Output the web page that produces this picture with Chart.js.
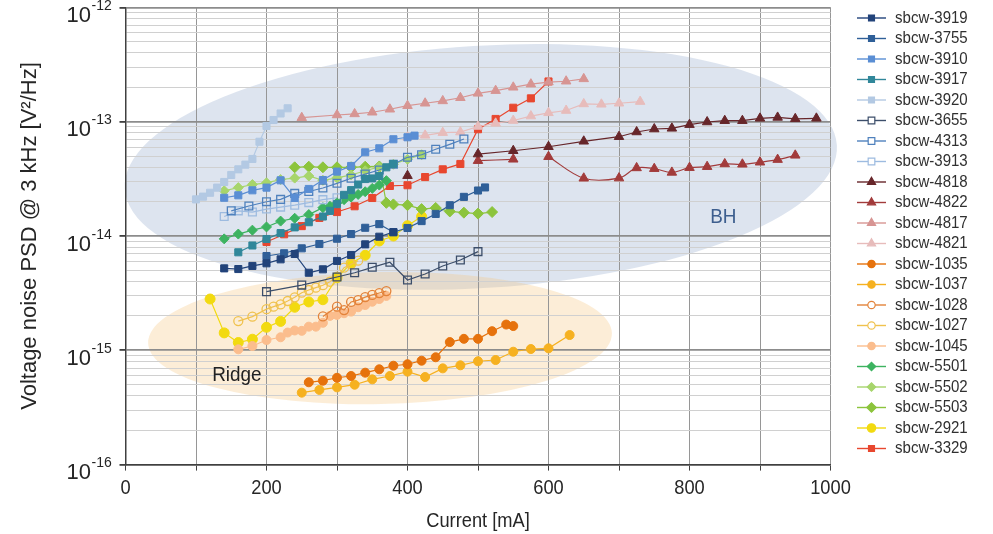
<!DOCTYPE html>
<html>
<head>
<meta charset="utf-8">
<script src="https://cdn.jsdelivr.net/npm/chart.js@4.4.0/dist/chart.umd.min.js"></script>
<style>
	html, body { margin: 0; padding: 0; background: #fff; }
	#wrap { width: 993px; height: 534px; }
</style>
</head>
<body>
<div id="wrap"><canvas id="myChart" width="993" height="534"></canvas></div>
<script>
// tick labels
const xTickLabels = [0, 200, 400, 600, 800, 1000]
const yDecades = [-16, -15, -14, -13, -12]

// series names (legend order)
const names = ['sbcw-3919', 'sbcw-3755', 'sbcw-3910', 'sbcw-3917', 'sbcw-3920', 'sbcw-3655', 'sbcw-4313', 'sbcw-3913',
	'sbcw-4818', 'sbcw-4822', 'sbcw-4817', 'sbcw-4821', 'sbcw-1035', 'sbcw-1037', 'sbcw-1028', 'sbcw-1027', 'sbcw-1045',
	'sbcw-5501', 'sbcw-5502', 'sbcw-5503', 'sbcw-2921', 'sbcw-3329']

// current [mA] and noise PSD [V^2/Hz]
const x3919 = [140, 160, 180, 200, 220, 240, 260, 280, 300, 320, 340, 360, 380]
const y3919 = [5.21e-15, 5.14e-15, 5.47e-15, 5.77e-15, 6.25e-15, 6.96e-15, 4.77e-15, 5.11e-15, 6.05e-15, 6.82e-15, 8.45e-15, 9.86e-15, 1.08e-14]

const x3755 = [200, 225, 250, 275, 300, 320, 340, 360, 380, 400, 420, 440, 460, 480, 500, 510]
const y3755 = [6.68e-15, 7.06e-15, 7.8e-15, 8.51e-15, 9.47e-15, 1.04e-14, 1.18e-14, 1.27e-14, 1.08e-14, 1.175e-14, 1.35e-14, 1.56e-14, 1.86e-14, 2.2e-14, 2.5e-14, 2.66e-14]

const x3910 = [140, 160, 180, 200, 220, 240, 260, 280, 300, 320, 340, 360, 380, 400, 410]
const y3910 = [2.16e-14, 2.27e-14, 2.51e-14, 2.65e-14, 3.07e-14, 2.15e-14, 2.58e-14, 3.09e-14, 3.66e-14, 4.1e-14, 5.4e-14, 5.85e-14, 7.02e-14, 7.31e-14, 7.55e-14]

const x3917 = [160, 180, 200, 220, 240, 260, 280, 290, 300, 310, 320, 330, 340, 350, 360, 370, 380]
const y3917 = [7.2e-15, 8.26e-15, 9.41e-15, 1.06e-14, 1.19e-14, 1.32e-14, 1.48e-14, 1.66e-14, 1.9e-14, 2.29e-14, 2.52e-14, 2.82e-14, 3.15e-14, 3.19e-14, 3.35e-14, 3.99e-14, 4.27e-14]

const x3920 = [100, 110, 120, 130, 140, 150, 160, 170, 180, 190, 200, 210, 220, 230]
const y3920 = [2.09e-14, 2.21e-14, 2.39e-14, 2.65e-14, 2.97e-14, 3.42e-14, 3.83e-14, 4.21e-14, 4.72e-14, 6.68e-14, 9.17e-14, 1.035e-13, 1.18e-13, 1.31e-13]

const x3655 = [200, 250, 300, 325, 350, 375, 400, 425, 450, 475, 500]
const y3655 = [3.26e-15, 3.72e-15, 4.38e-15, 4.77e-15, 5.32e-15, 5.89e-15, 4.12e-15, 4.65e-15, 5.47e-15, 6.17e-15, 7.3e-15]

const x4313 = [150, 175, 200, 220, 240, 260, 280, 300, 320, 340, 360, 380, 400, 420, 440, 460, 480]
const y4313 = [1.66e-14, 1.83e-14, 1.995e-14, 2.09e-14, 2.36e-14, 2.45e-14, 2.63e-14, 2.89e-14, 3.2e-14, 3.48e-14, 3.78e-14, 4.24e-14, 4.88e-14, 5.14e-14, 5.74e-14, 6.34e-14, 7.05e-14]

const x3913 = [140, 160, 180, 200, 220, 240, 260, 280, 300]
const y3913 = [1.48e-14, 1.66e-14, 1.62e-14, 1.72e-14, 1.79e-14, 1.86e-14, 1.96e-14, 2.08e-14, 2.16e-14]

const x4818 = [400, 450, 500, 550, 600, 650, 700, 725, 750, 775, 800, 825, 850, 875, 900, 925, 950, 980]
const y4818 = [3.37e-14, null, 5.21e-14, 5.57e-14, 6.04e-14, 6.74e-14, 7.39e-14, 8.13e-14, 8.63e-14, 8.75e-14, 9.42e-14, 9.94e-14, 1.02e-13, 1.02e-13, 1.07e-13, 1.09e-13, 1.06e-13, 1.07e-13]

const x4822 = [500, 550, 575, 600, 650, 700, 725, 750, 775, 800, 825, 850, 875, 900, 925, 950]
const y4822 = [4.56e-14, 4.69e-14, null, 4.94e-14, 3.2e-14, 3.21e-14, 3.94e-14, 3.88e-14, 3.6e-14, 3.96e-14, 4.04e-14, 4.27e-14, 4.24e-14, 4.42e-14, 4.66e-14, 5.08e-14]

const x4817 = [250, 300, 325, 350, 375, 400, 425, 450, 475, 500, 525, 550, 575, 600, 625, 650]
const y4817 = [1.084e-13, 1.145e-13, 1.17e-13, 1.21e-13, 1.285e-13, 1.38e-13, 1.45e-13, 1.52e-13, 1.62e-13, 1.77e-13, 1.87e-13, 2.0e-13, 2.13e-13, 2.22e-13, 2.26e-13, 2.37e-13]

const x4821 = [400, 425, 450, 475, 500, 525, 550, 575, 600, 625, 650, 675, 700, 730]
const y4821 = [7.31e-14, 7.6e-14, 8.02e-14, 8.11e-14, 9.08e-14, 9.68e-14, 1.024e-13, 1.12e-13, 1.196e-13, 1.253e-13, 1.43e-13, 1.42e-13, 1.45e-13, 1.5e-13]

const x1035 = [260, 280, 300, 320, 340, 360, 380, 400, 420, 440, 460, 480, 500, 520, 540, 550]
const y1035 = [5.25e-16, 5.42e-16, 5.75e-16, 5.96e-16, 6.37e-16, 6.82e-16, 7.33e-16, 7.55e-16, 8.11e-16, 8.69e-16, 1.18e-15, 1.26e-15, 1.26e-15, 1.47e-15, 1.68e-15, 1.63e-15]

const x1037 = [250, 275, 300, 325, 350, 375, 400, 425, 450, 475, 500, 525, 550, 575, 600, 630]
const y1037 = [4.26e-16, 4.5e-16, 4.74e-16, 5.0e-16, 5.57e-16, 5.96e-16, 6.5e-16, 5.84e-16, 6.95e-16, 7.39e-16, 8.02e-16, 8.22e-16, 9.72e-16, 1.026e-15, 1.04e-15, 1.36e-15]

const x1028 = [280, 300, 310, 320, 330, 340, 350, 360, 370]
const y1028 = [1.98e-15, 2.41e-15, 2.25e-15, 2.65e-15, 2.75e-15, 2.92e-15, 3.05e-15, 3.17e-15, 3.3e-15]

const x1027 = [160, 180, 200, 210, 220, 230, 240, 250, 260, 270, 280, 290, 300, 310, 320, 330]
const y1027 = [1.8e-15, 1.97e-15, 2.29e-15, 2.41e-15, 2.52e-15, 2.7e-15, 2.91e-15, 3.19e-15, 3.37e-15, 3.53e-15, 3.71e-15, 3.98e-15, 4.41e-15, 5.28e-15, 5.65e-15, 6.08e-15]

const x1045 = [160, 180, 200, 220, 230, 240, 250, 260, 270, 280, 290, 300, 310, 320, 330, 340, 350, 360, 370]
const y1045 = [1.02e-15, 1.09e-15, 1.23e-15, 1.3e-15, 1.43e-15, 1.49e-15, 1.48e-15, 1.61e-15, 1.61e-15, 1.74e-15, 2.0e-15, 2.04e-15, 2.11e-15, 2.18e-15, 2.38e-15, 2.49e-15, 2.66e-15, 2.81e-15, 2.99e-15]

const x5501 = [140, 160, 180, 200, 220, 240, 260, 280, 290, 300, 310, 320, 330, 340, 350, 360, 370]
const y5501 = [9.44e-15, 1.04e-14, 1.125e-14, 1.2e-14, 1.35e-14, 1.43e-14, 1.54e-14, 1.77e-14, 1.82e-14, 1.95e-14, 2.08e-14, 2.19e-14, 2.31e-14, 2.44e-14, 2.61e-14, 2.79e-14, 3.05e-14]

const x5502 = [140, 160, 180, 200, 220, 240, 260, 280, 300, 320, 340, 360, 380, 400, 420]
const y5502 = [2.49e-14, 2.65e-14, 2.82e-14, 2.92e-14, 3.12e-14, 3.21e-14, 3.35e-14, 3.07e-14, 3.23e-14, 3.42e-14, 3.72e-14, 4.02e-14, 4.24e-14, 4.69e-14, 5.14e-14]

const x5503 = [240, 260, 280, 300, 320, 340, 360, 370, 380, 400, 420, 440, 460, 480, 500, 520]
const y5503 = [3.99e-14, 4.04e-14, 3.99e-14, 3.99e-14, 3.99e-14, 4.04e-14, 4.06e-14, 1.95e-14, 1.89e-14, 1.86e-14, 1.72e-14, 1.76e-14, 1.64e-14, 1.6e-14, 1.57e-14, 1.62e-14]

const x2921 = [120, 140, 160, 180, 200, 220, 240, 260, 280, 300, 320, 340, 360, 380, 400, 420]
const y2921 = [2.81e-15, 1.42e-15, 1.17e-15, 1.25e-15, 1.59e-15, 1.79e-15, 2.38e-15, 2.65e-15, 2.77e-15, 4.31e-15, 5.77e-15, 6.78e-15, 9.04e-15, 1.0e-14, 1.23e-14, 1.48e-14]

const x3329 = [200, 225, 250, 275, 300, 325, 350, 375, 400, 425, 450, 475, 500, 525, 550, 575, 600]
const y3329 = [8.86e-15, 1.035e-14, 1.22e-14, 1.44e-14, 1.62e-14, 1.82e-14, 2.15e-14, 2.74e-14, 2.78e-14, 3.28e-14, 3.83e-14, 4.27e-14, 8.59e-14, 1.057e-13, 1.325e-13, 1.6e-13, 2.25e-13]

const seriesX = [x3919, x3755, x3910, x3917, x3920, x3655, x4313, x3913, x4818, x4822, x4817, x4821,
	x1035, x1037, x1028, x1027, x1045, x5501, x5502, x5503, x2921, x3329]
const seriesY = [y3919, y3755, y3910, y3917, y3920, y3655, y4313, y3913, y4818, y4822, y4817, y4821,
	y1035, y1037, y1028, y1027, y1045, y5501, y5502, y5503, y2921, y3329]

// marker looks, same order as names
const looks = [
	{ color: '#22437a', shape: 'rect', open: false, r: 5 },
	{ color: '#2f5f98', shape: 'rect', open: false, r: 5 },
	{ color: '#5a8ed4', shape: 'rect', open: false, r: 5 },
	{ color: '#31879a', shape: 'rect', open: false, r: 5 },
	{ color: '#b3c9e3', shape: 'rect', open: false, r: 5 },
	{ color: '#3c4e6a', shape: 'rect', open: true, r: 5.5 },
	{ color: '#4f81bd', shape: 'rect', open: true, r: 5.5 },
	{ color: '#9dbbe0', shape: 'rect', open: true, r: 5.5 },
	{ color: '#67262a', shape: 'triangle', open: false, r: 5.5 },
	{ color: '#a23b3b', shape: 'triangle', open: false, r: 5.5, smooth: 0.35 },
	{ color: '#d79593', shape: 'triangle', open: false, r: 5.5 },
	{ color: '#e7bcbb', shape: 'triangle', open: false, r: 5.5 },
	{ color: '#e6720c', shape: 'circle', open: false, r: 4.5 },
	{ color: '#f6b120', shape: 'circle', open: false, r: 4.5 },
	{ color: '#e3833a', shape: 'circle', open: true, r: 4.5 },
	{ color: '#f0c24e', shape: 'circle', open: true, r: 4.5 },
	{ color: '#fbbd8d', shape: 'circle', open: false, r: 4.5 },
	{ color: '#3db360', shape: 'rectRot', open: false, r: 5 },
	{ color: '#a7d56c', shape: 'rectRot', open: false, r: 5 },
	{ color: '#8cc43c', shape: 'rectRot', open: false, r: 5.5 },
	{ color: '#f2da10', shape: 'circle', open: false, r: 5 },
	{ color: '#e8472f', shape: 'rect', open: false, r: 5 }
]

// shaded zones, in data units (mA, V^2/Hz, decades)
const zones = [
	{ label: 'BH', x: 504, y: 4.02e-14, halfWidth: 506, halfDecades: 1.06, tilt: 3.5, fill: 'rgba(110,140,185,0.23)',
		textX: 848, textY: 1.47e-14, textColor: '#3d5e8e' },
	{ label: 'Ridge', x: 361, y: 1.28e-15, halfWidth: 329, halfDecades: 0.577, tilt: 1.2, fill: 'rgba(245,200,130,0.32)',
		textX: 158, textY: 6.1e-16, textColor: '#222' }
]

const FONT = '"Liberation Sans", Arial, sans-serif'

function isDecade(v) {
	const l = Math.log10(v)
	return Math.abs(l - Math.round(l)) < 1e-9
}

function drawText(ctx, text, x, y, align, sx) {
	ctx.save()
	ctx.translate(x, y)
	ctx.scale(sx, 1)
	ctx.textAlign = align
	ctx.fillText(text, 0, 0)
	ctx.restore()
}

const zonePlugin = {
	id: 'zones',
	beforeDraw(chart) {
		const ctx = chart.ctx
		const xs = chart.scales.x, ys = chart.scales.y
		zones.forEach(z => {
			const cx = xs.getPixelForValue(z.x)
			const cy = ys.getPixelForValue(z.y)
			const rx = xs.getPixelForValue(z.x + z.halfWidth) - cx
			const ry = cy - ys.getPixelForValue(z.y * Math.pow(10, z.halfDecades))
			ctx.save()
			ctx.translate(cx, cy)
			ctx.rotate(-z.tilt * Math.PI / 180)
			ctx.beginPath()
			ctx.ellipse(0, 0, rx, ry, 0, 0, 2 * Math.PI)
			ctx.fillStyle = z.fill
			ctx.fill()
			ctx.restore()
		})
	}
}

const textPlugin = {
	id: 'texts',
	afterDraw(chart) {
		const ctx = chart.ctx
		const xs = chart.scales.x, ys = chart.scales.y
		const area = chart.chartArea
		ctx.save()
		ctx.fillStyle = '#262626'
		ctx.textBaseline = 'alphabetic'

		// x tick labels
		ctx.font = '21px ' + FONT
		xTickLabels.forEach(v => drawText(ctx, String(v), xs.getPixelForValue(v), area.bottom + 29.5, 'center', 0.87))

		// y tick labels 10^n
		yDecades.forEach(e => {
			const py = ys.getPixelForValue(Math.pow(10, e))
			ctx.font = '22px ' + FONT
			drawText(ctx, '10', 91, py + 14.5, 'right', 1)
			ctx.font = '14px ' + FONT
			drawText(ctx, String(e), 91.5, py + 2.5, 'left', 1)
		})

		// axis titles
		ctx.font = '21px ' + FONT
		drawText(ctx, 'Current [mA]', (area.left + area.right) / 2, 527, 'center', 0.87)
		ctx.save()
		ctx.translate(36, (area.top + area.bottom) / 2)
		ctx.rotate(-Math.PI / 2)
		ctx.font = '22px ' + FONT
		ctx.textAlign = 'center'
		ctx.fillText('Voltage noise PSD @ 3 kHz [V²/Hz]', 0, 0)
		ctx.restore()

		// zone labels
		ctx.font = '21px ' + FONT
		ctx.textBaseline = 'middle'
		zones.forEach(z => {
			ctx.fillStyle = z.textColor
			drawText(ctx, z.label, xs.getPixelForValue(z.textX), ys.getPixelForValue(z.textY), 'center', 0.9)
		})

		// legend
		chart.data.datasets.forEach((ds, i) => {
			const lk = looks[i]
			const ly = 18 + i * 20.5
			ctx.strokeStyle = lk.color
			ctx.lineWidth = 1.4
			ctx.beginPath()
			ctx.moveTo(857, ly)
			ctx.lineTo(886, ly)
			ctx.stroke()
			ctx.fillStyle = lk.open ? '#ffffff' : lk.color
			ctx.lineWidth = 1.2
			Chart.helpers.drawPoint(ctx, { pointStyle: lk.shape, rotation: 0, radius: lk.r - 0.8, borderWidth: 1.2 }, 871.5, ly)
			ctx.fillStyle = '#303030'
			ctx.font = '16px ' + FONT
			ctx.textBaseline = 'middle'
			drawText(ctx, ds.label, 895, ly + 0.5, 'left', 0.94)
		})
		ctx.restore()
	}
}

function createChart() {
	const datasets = names.map((name, i) => {
		const lk = looks[i]
		return {
			label: name,
			data: seriesX[i].map((x, j) => ({ x: x, y: seriesY[i][j] })),
			showLine: true,
			borderColor: lk.color,
			backgroundColor: lk.color,
			borderWidth: 1.2,
			pointStyle: lk.shape,
			pointRadius: lk.r,
			pointBorderColor: lk.color,
			pointBackgroundColor: lk.open ? 'rgba(255,255,255,0)' : lk.color,
			pointBorderWidth: lk.open ? 1.3 : 1,
			tension: lk.smooth || 0,
			spanGaps: false
		}
	})

	var ctx = document.getElementById('myChart').getContext('2d')
	var myChart = new Chart(ctx, {
		type: 'scatter',
		data: { datasets: datasets },
		plugins: [zonePlugin, textPlugin],
		options: {
			responsive: false,
			animation: false,
			layout: { padding: { top: 7.4, right: 162.5, left: 0, bottom: 0 } },
			plugins: {
				legend: { display: false },
				tooltip: { enabled: false }
			},
			scales: {
				x: {
					type: 'linear',
					min: 0,
					max: 1000,
					ticks: { stepSize: 100, display: false },
					grid: { color: '#969696', lineWidth: 1, tickLength: 6, tickColor: '#404040' },
					border: { display: true, color: '#404040', width: 1.5 },
					afterFit: s => { s.height = 69.4 }
				},
				y: {
					type: 'logarithmic',
					min: 1e-16,
					max: 1e-12,
					ticks: { display: false },
					afterBuildTicks: scale => {
						const t = []
						yDecades.forEach((e, k) => {
							if (k < yDecades.length - 1) {
								for (let m = 1; m < 10; m++) t.push({ value: m * Math.pow(10, e) })
							} else {
								t.push({ value: Math.pow(10, e) })
							}
						})
						scale.ticks = t
					},
					grid: {
						color: c => isDecade(c.tick.value) ? '#8c8c8c' : '#d0d0d0',
						lineWidth: c => isDecade(c.tick.value) ? 1.8 : 1,
						tickLength: 6,
						tickColor: c => isDecade(c.tick.value) ? '#404040' : 'rgba(0,0,0,0)'
					},
					border: { display: true, color: '#404040', width: 1.5 },
					afterFit: s => { s.width = 125.5 }
				}
			}
		}
	})
}

createChart()
</script>
</body>
</html>
